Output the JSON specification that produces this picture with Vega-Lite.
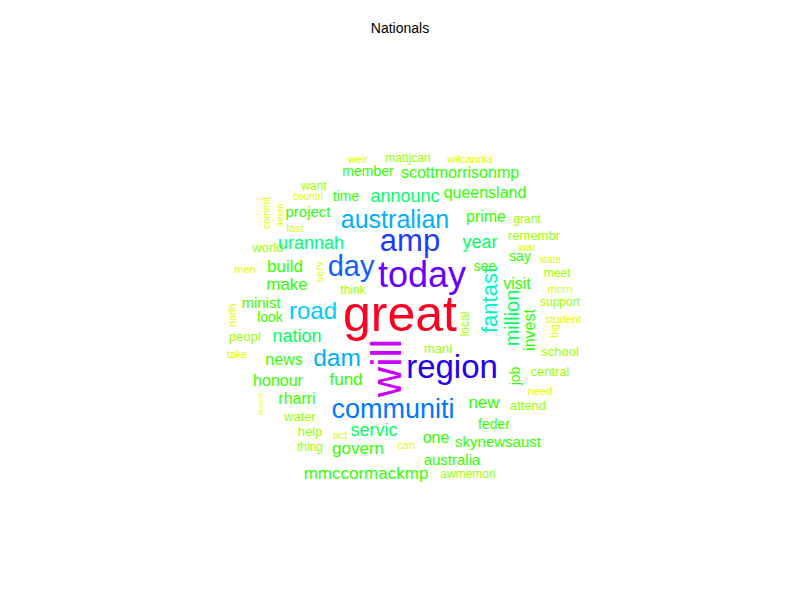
{
  "$schema": "https://vega.github.io/schema/vega-lite/v6.json",
  "width": 800,
  "height": 600,
  "padding": 0,
  "autosize": {"type": "none"},
  "background": "white",
  "title": {"text": "Nationals", "font": "Liberation Sans", "fontSize": 14, "fontWeight": "normal", "color": "black", "offset": -36, "anchor": "middle"},
  "config": {"view": {"stroke": null}},
  "data": {"values": [
    {"word": "great", "x": 400, "y": 316, "f": 50, "rot": 0},
    {"word": "will", "x": 388, "y": 368, "f": 42, "rot": 270},
    {"word": "today", "x": 422, "y": 276, "f": 36, "rot": 0},
    {"word": "region", "x": 452, "y": 368, "f": 33, "rot": 0},
    {"word": "amp", "x": 410, "y": 242, "f": 31, "rot": 0},
    {"word": "day", "x": 351, "y": 267, "f": 29, "rot": 0},
    {"word": "communiti", "x": 393, "y": 410, "f": 27, "rot": 0},
    {"word": "australian", "x": 395, "y": 220, "f": 25, "rot": 0},
    {"word": "dam", "x": 337, "y": 359, "f": 24.5, "rot": 0},
    {"word": "road", "x": 313, "y": 312, "f": 24, "rot": 0},
    {"word": "fantast", "x": 490, "y": 300, "f": 22, "rot": 270},
    {"word": "million", "x": 513, "y": 318, "f": 20, "rot": 270},
    {"word": "announc", "x": 405, "y": 197, "f": 18, "rot": 0},
    {"word": "scottmorrisonmp", "x": 460, "y": 173, "f": 16, "rot": 0},
    {"word": "member", "x": 368, "y": 172, "f": 14, "rot": 0},
    {"word": "queensland", "x": 485, "y": 193, "f": 16, "rot": 0},
    {"word": "time", "x": 346, "y": 197, "f": 14, "rot": 0},
    {"word": "project", "x": 308, "y": 212, "f": 15, "rot": 0},
    {"word": "prime", "x": 486, "y": 217, "f": 16, "rot": 0},
    {"word": "year", "x": 480, "y": 243, "f": 18, "rot": 0},
    {"word": "urannah", "x": 311, "y": 244, "f": 18, "rot": 0},
    {"word": "world", "x": 268, "y": 248, "f": 13, "rot": 0},
    {"word": "build", "x": 285, "y": 267, "f": 17, "rot": 0},
    {"word": "say", "x": 520, "y": 257, "f": 14, "rot": 0},
    {"word": "see", "x": 485, "y": 267, "f": 14, "rot": 0},
    {"word": "make", "x": 287, "y": 285, "f": 17, "rot": 0},
    {"word": "visit", "x": 517, "y": 284, "f": 16, "rot": 0},
    {"word": "minist", "x": 261, "y": 303, "f": 15, "rot": 0},
    {"word": "look", "x": 270, "y": 318, "f": 14, "rot": 0},
    {"word": "nation", "x": 297, "y": 337, "f": 18, "rot": 0},
    {"word": "invest", "x": 530, "y": 330, "f": 16, "rot": 270},
    {"word": "news", "x": 284, "y": 360, "f": 16, "rot": 0},
    {"word": "fund", "x": 346, "y": 380, "f": 17, "rot": 0},
    {"word": "honour", "x": 278, "y": 381, "f": 16, "rot": 0},
    {"word": "job", "x": 516, "y": 376, "f": 14, "rot": 270},
    {"word": "rharri", "x": 297, "y": 399, "f": 16, "rot": 0},
    {"word": "new", "x": 484, "y": 403, "f": 17, "rot": 0},
    {"word": "servic", "x": 374, "y": 431, "f": 18, "rot": 0},
    {"word": "one", "x": 436, "y": 438, "f": 16, "rot": 0},
    {"word": "govern", "x": 358, "y": 449, "f": 17, "rot": 0},
    {"word": "skynewsaust", "x": 498, "y": 442, "f": 15, "rot": 0},
    {"word": "australia", "x": 452, "y": 460, "f": 15, "rot": 0},
    {"word": "mmccormackmp", "x": 366, "y": 474, "f": 17, "rot": 0},
    {"word": "feder", "x": 494, "y": 425, "f": 14, "rot": 0},
    {"word": "attend", "x": 528, "y": 406, "f": 13, "rot": 0},
    {"word": "water", "x": 300, "y": 417, "f": 13, "rot": 0},
    {"word": "help", "x": 310, "y": 432, "f": 13, "rot": 0},
    {"word": "thing", "x": 310, "y": 447, "f": 12, "rot": 0},
    {"word": "act", "x": 340, "y": 436, "f": 11, "rot": 0},
    {"word": "can", "x": 406, "y": 446, "f": 11, "rot": 0},
    {"word": "awmemori", "x": 468, "y": 474, "f": 12, "rot": 0},
    {"word": "central", "x": 550, "y": 372, "f": 13, "rot": 0},
    {"word": "school", "x": 560, "y": 352, "f": 13, "rot": 0},
    {"word": "need", "x": 540, "y": 392, "f": 11, "rot": 0},
    {"word": "mani", "x": 438, "y": 349, "f": 13, "rot": 0},
    {"word": "local", "x": 465, "y": 324, "f": 12, "rot": 270},
    {"word": "think", "x": 353, "y": 290, "f": 12, "rot": 0},
    {"word": "serv", "x": 320, "y": 272, "f": 11, "rot": 270},
    {"word": "grant", "x": 527, "y": 219, "f": 12, "rot": 0},
    {"word": "remembr", "x": 534, "y": 236, "f": 13, "rot": 0},
    {"word": "war", "x": 527, "y": 248, "f": 11, "rot": 0},
    {"word": "state", "x": 550, "y": 260, "f": 10, "rot": 0},
    {"word": "meet", "x": 557, "y": 273, "f": 12, "rot": 0},
    {"word": "morn", "x": 560, "y": 290, "f": 11, "rot": 0},
    {"word": "support", "x": 560, "y": 302, "f": 12, "rot": 0},
    {"word": "student", "x": 563, "y": 320, "f": 11, "rot": 0},
    {"word": "big", "x": 555, "y": 331, "f": 10, "rot": 270},
    {"word": "men", "x": 245, "y": 270, "f": 11, "rot": 0},
    {"word": "peopl", "x": 245, "y": 337, "f": 13, "rot": 0},
    {"word": "take", "x": 237, "y": 355, "f": 11, "rot": 0},
    {"word": "north", "x": 233, "y": 315, "f": 10, "rot": 270},
    {"word": "recent", "x": 261, "y": 404, "f": 8, "rot": 270},
    {"word": "commit", "x": 267, "y": 213, "f": 10, "rot": 270},
    {"word": "intern", "x": 280, "y": 215, "f": 9, "rot": 270},
    {"word": "last", "x": 295, "y": 229, "f": 11, "rot": 0},
    {"word": "countri", "x": 308, "y": 197, "f": 10, "rot": 0},
    {"word": "want", "x": 314, "y": 186, "f": 12, "rot": 0},
    {"word": "weir", "x": 358, "y": 160, "f": 11, "rot": 0},
    {"word": "mattjcan", "x": 408, "y": 158, "f": 12, "rot": 0},
    {"word": "wilcannia", "x": 470, "y": 160, "f": 11, "rot": 0}
  ]},
  "mark": {"type": "text", "font": "Liberation Sans", "align": "center", "baseline": "middle"},
  "encoding": {
    "x": {"field": "x", "type": "quantitative", "scale": {"domain": [0, 800], "nice": false, "zero": false}, "axis": null},
    "y": {"field": "y", "type": "quantitative", "scale": {"domain": [600, 0], "nice": false, "zero": false}, "axis": null},
    "text": {"field": "word"},
    "size": {"field": "f", "type": "quantitative", "scale": {"domain": [8, 50], "range": [8, 50], "zero": false}, "legend": null},
    "angle": {"field": "rot", "type": "quantitative", "scale": null},
    "color": {"field": "f", "type": "quantitative", "legend": null, "scale": {"type": "threshold",
      "domain": [12, 14, 18, 21, 23, 24.2, 26, 28, 30, 32, 35, 40, 45],
      "range": ["#DDFF00", "#99FF00", "#33FF00", "#00FF66", "#00F5C8", "#00CCFF", "#00B0FF", "#0077FF", "#1060FF", "#1A3CFF", "#2200EE", "#6A00FF", "#CC00FF", "#FF0022"]}}
  }
}
